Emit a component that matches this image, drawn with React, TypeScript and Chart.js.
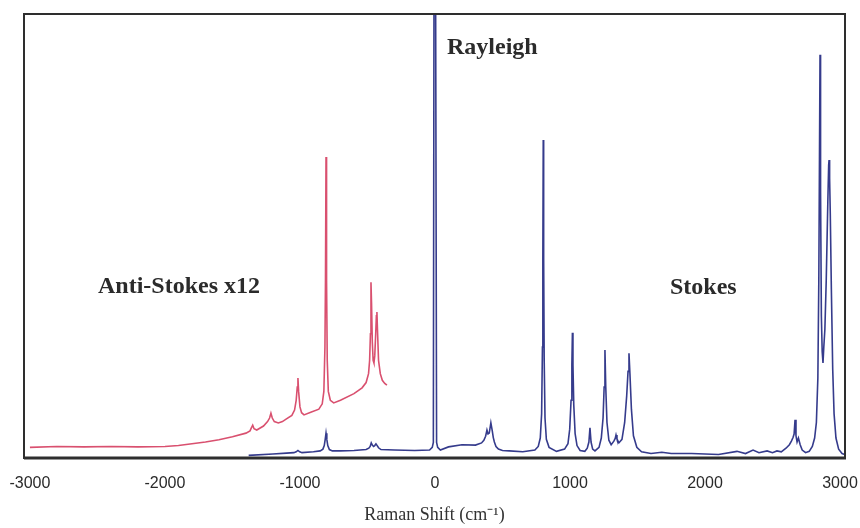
import React, { useEffect, useRef } from "react";
import { Chart, registerables } from "chart.js";

Chart.register(...registerables);

// Raman shift axis (cm-1) tick values
const shiftTicks = [-3000, -2000, -1000, 0, 1000, 2000, 3000];

// Full spectrum: anti-Stokes tail, Rayleigh line and Stokes bands
const spectrumShift = [
  -1380, -1200, -1100, -1045, -1028, -1015, -1002, -985, -900, -850, -830,
  -820, -813, -807, -801, -794, -782, -760, -700, -600, -510, -490, -480, -472,
  -464, -455, -446, -437, -428, -418, -400, -300, -150, -40, -20, -12, -6, -3,
  0, 3, 6, 12, 20, 40, 100, 200, 300, 345, 362, 375, 385, 393, 402, 414, 425,
  432, 440, 452, 470, 500, 550, 650, 740, 765, 780, 790, 796, 799, 802, 805,
  809, 815, 825, 845, 900, 960, 985, 998, 1008, 1014, 1018, 1022, 1028, 1038,
  1052, 1075, 1110, 1128, 1140, 1148, 1156, 1168, 1185, 1215, 1232, 1245, 1253,
  1259, 1265, 1274, 1288, 1305, 1325, 1335, 1341, 1348, 1362, 1385, 1405, 1420,
  1430, 1437, 1444, 1455, 1470, 1495, 1530, 1600, 1680, 1750, 1900, 2000,
  2100, 2237, 2300, 2356, 2400, 2460, 2500, 2533, 2565, 2600, 2625, 2640, 2652,
  2660, 2667, 2674, 2682, 2692, 2705, 2720, 2745, 2772, 2795, 2812, 2825, 2836,
  2843, 2848, 2852, 2856, 2862, 2868, 2874, 2880, 2888, 2898, 2910, 2916, 2919,
  2923, 2928, 2936, 2946, 2956, 2970, 2990, 3015, 3035,
];
const spectrumIntensity = [
  0.6, 0.9, 1.1, 1.2, 1.4, 1.7, 1.4, 1.2, 1.4, 1.6, 2.0,
  2.8, 4.2, 5.6, 4.2, 2.8, 1.9, 1.6, 1.6, 1.7, 1.9, 2.2, 2.6, 3.4,
  2.9, 2.6, 2.8, 3.2, 2.8, 2.3, 1.9, 1.8, 1.7, 1.8, 2.4, 3.5, 130, 130,
  130, 130, 130, 3.5, 2.4, 1.8, 2.5, 3.0, 2.9, 3.4, 4.0, 4.9, 6.3, 5.4, 5.6, 7.9, 6.0,
  4.6, 3.6, 2.6, 2.0, 1.7, 1.6, 1.4, 1.8, 2.6, 4.5, 10, 25, 45, 71.6, 45,
  22, 9, 4.2, 2.4, 1.5, 2.0, 3.2, 6.5, 13, 21, 28.2, 21, 12, 5.5,
  2.8, 1.7, 1.5, 2.2, 3.6, 6.8, 3.6, 2.0, 1.6, 2.4, 4.5, 9, 16,
  24.3, 16, 8, 4, 3, 3.8, 4.4, 5.2, 4.3, 3.4, 4.2, 8, 14,
  19.5, 23.6, 19, 11, 5, 2.4, 1.4, 1.0, 1.3, 1.0, 1.0, 0.9,
  0.8, 1.5, 1.0, 1.8, 1.2, 1.6, 1.2, 1.6, 1.4, 2.2, 3.0, 3.8, 4.6,
  5.4, 8.6, 5.0, 3.6, 4.5, 3.0, 1.8, 1.2, 1.5, 2.6, 4.5, 8, 18,
  40, 68, 90.8, 60, 32, 24, 21.4, 25, 29, 40, 58, 66, 67.1,
  63, 55, 38, 20, 10, 4.5, 2, 1, 0.8,
];

// Anti-Stokes region magnified x12
const antiStokesShift = [
  -3000, -2800, -2600, -2400, -2200, -2000, -1900, -1800, -1700, -1600, -1500,
  -1400, -1370, -1360, -1350, -1340, -1320, -1270, -1240, -1225, -1215, -1205,
  -1190, -1160, -1130, -1100, -1060, -1040, -1028, -1020, -1015, -1010, -1000,
  -988, -970, -920, -860, -835, -823, -815, -811, -807, -803, -798, -790, -775,
  -750, -700, -600, -540, -510, -492, -484, -478, -474, -470, -464, -458, -452,
  -446, -439, -434, -430, -426, -418, -405, -390, -372, -356,
];
const antiStokesIntensity = [
  2.4, 2.6, 2.5, 2.6, 2.5, 2.6, 2.8, 3.2, 3.6, 4.1, 4.8,
  5.6, 6.1, 6.8, 7.4, 6.6, 6.3, 7.2, 8.2, 9.0, 10.1, 9.0,
  8.2, 7.9, 8.2, 8.8, 9.6, 10.8, 13, 16, 18, 15, 11.5,
  10.2, 9.7, 10.3, 11.0, 12.2, 15, 25, 40, 67.8, 40, 22, 15, 13,
  12.4, 13, 14.5, 15.8, 17, 19, 22, 28, 39.6, 35, 26, 22, 21.4,
  23, 28, 32, 32.9, 29, 22, 19, 17.5, 16.8, 16.4,
];

// Band labels: text, left edge (shift), vertical centre (intensity)
const labelText = ["Anti-Stokes x12", "Rayleigh", "Stokes"];
const labelShift = [-2496, 89, 1741];
const labelLevel = [38.5, 92.3, 38.3];

const toPoints = (xs: number[], ys: number[]) =>
  xs.map((x, i) => ({ x, y: ys[i] }));

const framePlugin = {
  id: "frame",
  afterDatasetsDraw(chart: any) {
    const { ctx, chartArea: a } = chart;
    ctx.save();
    ctx.strokeStyle = "#2e2e2e";
    ctx.lineWidth = 2;
    ctx.strokeRect(a.left, a.top, a.right - a.left, a.bottom - a.top);
    ctx.lineWidth = 3;
    ctx.beginPath();
    ctx.moveTo(a.left, a.bottom);
    ctx.lineTo(a.right + 1, a.bottom);
    ctx.stroke();
    ctx.restore();
  },
};

const bandLabelPlugin = {
  id: "bandLabels",
  afterDraw(chart: any) {
    const { ctx, scales } = chart;
    ctx.save();
    ctx.fillStyle = "#2b2b2b";
    ctx.font = "bold 24px 'Liberation Serif', 'Times New Roman', serif";
    ctx.textAlign = "left";
    ctx.textBaseline = "middle";
    labelText.forEach((t, i) => {
      ctx.fillText(
        t,
        scales.x.getPixelForValue(labelShift[i]),
        scales.y.getPixelForValue(labelLevel[i])
      );
    });
    ctx.restore();
  },
};

export default function App() {
  const ref = useRef<HTMLCanvasElement | null>(null);

  useEffect(() => {
    document.body.style.margin = "0";
    const canvas = ref.current;
    if (!canvas) return;
    const chart = new Chart(canvas, {
      type: "line",
      data: {
        datasets: [
          {
            label: "Anti-Stokes x12",
            data: toPoints(antiStokesShift, antiStokesIntensity),
            borderColor: "#d9506f",
            borderWidth: 1.6,
            pointRadius: 0,
            tension: 0,
            fill: false,
          },
          {
            label: "Spectrum",
            data: toPoints(spectrumShift, spectrumIntensity),
            borderColor: "#353b8c",
            borderWidth: 1.6,
            pointRadius: 0,
            tension: 0,
            fill: false,
          },
        ],
      },
      options: {
        animation: false,
        responsive: false,
        devicePixelRatio: 1,
        layout: { padding: { left: 24, top: 14, right: 15, bottom: 0 } },
        plugins: {
          legend: { display: false },
          tooltip: { enabled: false },
        },
        scales: {
          x: {
            type: "linear",
            min: -3044,
            max: 3037,
            grid: { display: false, drawTicks: false },
            border: { display: false },
            afterBuildTicks: (scale: any) => {
              scale.ticks = shiftTicks.map((v) => ({ value: v }));
            },
            afterFit: (scale: any) => {
              scale.height = 70;
              scale.paddingLeft = 0;
              scale.paddingRight = 0;
            },
            ticks: {
              padding: 16,
              color: "#2a2a2a",
              font: { family: "'Liberation Sans', Arial, sans-serif", size: 16 },
              maxRotation: 0,
              autoSkip: false,
              callback: (v: any) => String(v),
            },
            title: {
              display: true,
              text: "Raman Shift (cm\u207B\u00B9)",
              color: "#333",
              font: { family: "'Liberation Serif', 'Times New Roman', serif", size: 18 },
              padding: { top: 0, bottom: 2 },
            },
          },
          y: {
            display: false,
            min: 0,
            max: 100,
          },
        },
      },
      plugins: [framePlugin, bandLabelPlugin],
    });
    return () => chart.destroy();
  }, []);

  return <canvas ref={ref} width={860} height={528} />;
}
